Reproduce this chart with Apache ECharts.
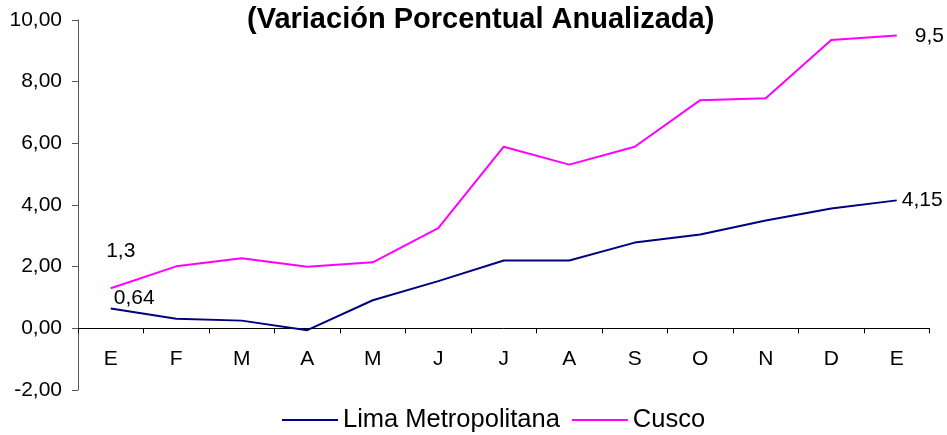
<!DOCTYPE html>
<html>
<head>
<meta charset="utf-8">
<script src="https://cdn.jsdelivr.net/npm/echarts@6/dist/echarts.min.js"></script>
<style>html,body{margin:0;padding:0;background:#fff}#c{width:947px;height:435px}</style>
</head>
<body>
<div id="c"></div>
<script>
var categories = ['E','F','M','A','M','J','J','A','S','O','N','D','E'];
var limaValues = [0.64, 0.31, 0.25, -0.06, 0.91, 1.53, 2.2, 2.2, 2.78, 3.04, 3.5, 3.89, 4.15];
var cuscoValues = [1.3, 2.01, 2.27, 2.0, 2.14, 3.25, 5.89, 5.31, 5.89, 7.4, 7.46, 9.35, 9.5];
var yTicks = {min: -2, max: 10, interval: 2};
var seriesNames = ['Lima Metropolitana', 'Cusco'];

var FONT = 'Liberation Sans, Arial, sans-serif';
function fmt(v){ return String(v).replace('.', ','); }

function buildData(vals, firstLabel, lastLabel){
  return vals.map(function(v, i){
    var item = {value: v};
    if (i === 0 && firstLabel) item.label = firstLabel;
    else if (i === vals.length - 1 && lastLabel) item.label = lastLabel;
    return item;
  });
}
var lblBase = {show: true, color: '#000', fontSize: 21, fontFamily: FONT,
  formatter: function(p){ return fmt(p.value); }};

var chart = echarts.init(document.getElementById('c'), null, {renderer: 'canvas'});
// grid spans 20..390 px for -2..10, so zero sits (2/12)*370 px above bottom
var plotH = 370;
var zeroOffset = -plotH * (0 - yTicks.min) / (yTicks.max - yTicks.min);
chart.setOption({
  animation: false,
  backgroundColor: '#fff',
  title: {
    text: '(Variación Porcentual Anualizada)',
    left: 242, top: 0,
    textStyle: {fontSize: 29, fontWeight: 'bold', color: '#000', fontFamily: FONT}
  },
  legend: {
    left: 277, top: 402,
    icon: 'rect',
    itemWidth: 56, itemHeight: 2, itemGap: 12,
    textStyle: {fontSize: 25.5, color: '#000', fontFamily: FONT},
    data: seriesNames
  },
  grid: {left: 78, right: 17.5, top: 20, bottom: 45},
  xAxis: {
    type: 'category',
    data: categories,
    boundaryGap: true,
    position: 'bottom',
    offset: zeroOffset,
    axisLine: {onZero: false, lineStyle: {color: '#000', width: 1}},
    axisTick: {show: true, inside: false, length: 5, alignWithLabel: false, lineStyle: {color: '#000'}},
    axisLabel: {fontSize: 21, color: '#000', fontFamily: FONT, margin: 20, interval: 0},
    splitLine: {show: false}
  },
  yAxis: {
    type: 'value',
    min: yTicks.min, max: yTicks.max, interval: yTicks.interval,
    axisLine: {show: true, lineStyle: {color: '#555', width: 1}},
    axisTick: {show: true, length: 6, lineStyle: {color: '#555'}},
    axisLabel: {fontSize: 21, color: '#000', fontFamily: FONT, margin: 16,
      formatter: function(v){ return v.toFixed(2).replace('.', ','); }},
    splitLine: {show: false}
  },
  series: [
    {
      name: seriesNames[0], type: 'line', symbol: 'circle', symbolSize: 0, showSymbol: true,
      lineStyle: {color: '#000080', width: 2}, itemStyle: {color: '#000080'},
      label: {show: false},
      data: buildData(limaValues,
        Object.assign({}, lblBase, {position: 'right', offset: [-2, -10]}),
        Object.assign({}, lblBase, {position: 'right', offset: [0, 0]}))
    },
    {
      name: seriesNames[1], type: 'line', symbol: 'circle', symbolSize: 0, showSymbol: true,
      lineStyle: {color: '#FF00FF', width: 2}, itemStyle: {color: '#FF00FF'},
      label: {show: false},
      data: buildData(cuscoValues,
        Object.assign({}, lblBase, {position: 'top', offset: [10, -22]}),
        Object.assign({}, lblBase, {position: 'right', offset: [13, 1]}))
    }
  ]
});
</script>
</body>
</html>
